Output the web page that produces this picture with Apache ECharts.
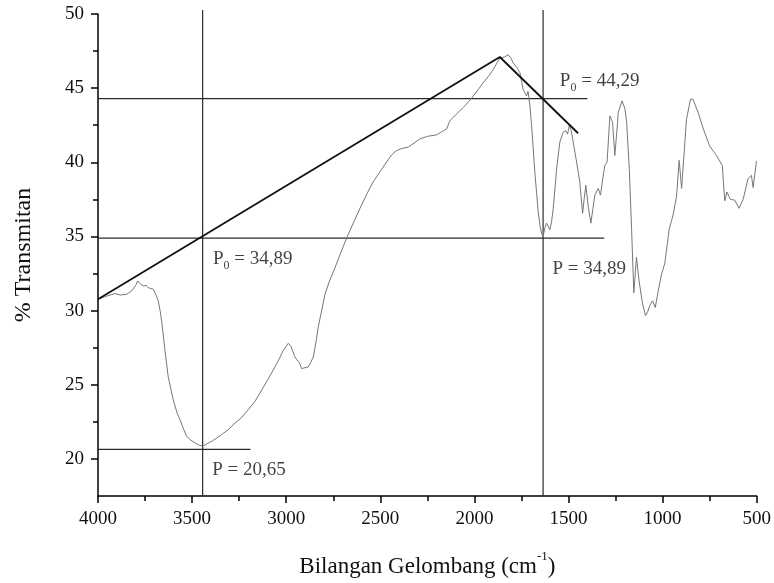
<!DOCTYPE html>
<html>
<head>
<meta charset="utf-8">
<script src="https://cdn.jsdelivr.net/npm/echarts@6/dist/echarts.min.js"></script>
<style>
html,body{margin:0;padding:0;background:#fff;}
#chart{width:774px;height:583px;}
</style>
</head>
<body>
<div id="chart"></div>
<script>
// ---- spectrum data (wavenumber cm-1, % transmittance) ----
const wavenumber = [4000,3960,3910,3880,3848,3821,3800,3789,3775,3759,3745,3733,3706,3690,3680,3670,3662,3644,3627,3600,3580,3564,3545,3529,3510,3485,3465,3446,3430,3410,3396,3370,3343,3310,3272,3240,3202,3165,3130,3095,3060,3035,3016,3000,2989,2975,2957,2945,2930,2918,2900,2883,2870,2856,2840,2830,2810,2794,2770,2741,2710,2679,2640,2608,2570,2538,2500,2467,2440,2413,2380,2352,2320,2290,2250,2201,2175,2148,2130,2100,2059,2030,2006,1980,1953,1925,1900,1880,1865,1840,1820,1805,1794,1775,1758,1741,1732,1723,1715,1705,1696,1679,1661,1650,1643,1635,1625,1617,1608,1599,1590,1581,1563,1546,1528,1514,1505,1496,1487,1478,1457,1440,1425,1417,1408,1395,1381,1370,1360,1342,1330,1318,1307,1295,1280,1266,1254,1239,1236,1215,1200,1191,1177,1165,1153,1139,1125,1107,1091,1080,1068,1053,1039,1025,1006,988,975,965,944,926,912,899,887,873,852,838,825,811,785,750,714,683,670,658,640,617,594,572,546,528,519,501];
const transmitan = [30.77,30.95,31.15,31.05,31.1,31.33,31.7,32.0,31.8,31.66,31.7,31.55,31.44,31.0,30.66,30.0,29.32,27.32,25.53,23.98,23.1,22.64,22.0,21.52,21.3,21.08,20.95,20.86,20.95,21.1,21.19,21.4,21.64,21.95,22.41,22.75,23.31,23.9,24.65,25.4,26.2,26.8,27.32,27.6,27.8,27.6,26.98,26.7,26.5,26.09,26.15,26.2,26.5,26.87,28.0,28.88,30.1,31.1,32.0,32.89,33.9,34.89,36.0,36.9,37.9,38.68,39.4,40.02,40.5,40.8,40.95,41.02,41.3,41.58,41.75,41.85,42.05,42.25,42.8,43.2,43.7,44.1,44.47,44.9,45.37,45.8,46.26,46.7,47.04,47.1,47.26,47.0,46.7,46.4,46.04,44.92,44.8,44.47,44.8,43.8,42.47,39.35,36.68,35.6,35.23,35.0,35.6,35.9,35.7,35.45,36.0,36.9,39.57,41.36,42.03,42.13,41.9,42.47,42.2,41.58,40.02,38.68,36.56,37.5,38.46,37.01,35.9,36.9,37.79,38.24,37.79,38.9,39.79,40.02,43.13,42.7,40.46,42.7,43.36,44.14,43.6,42.7,39.57,35.56,31.2,33.6,32.0,30.5,29.66,29.9,30.35,30.66,30.21,31.2,32.44,33.2,34.5,35.5,36.45,37.7,40.13,38.24,40.4,42.9,44.25,44.25,43.8,43.36,42.3,41.1,40.46,39.79,37.4,38.0,37.5,37.45,36.9,37.5,38.9,39.12,38.3,40.1];

// ---- baseline (tangent) line vertices ----
const tangentX = [4000, 1865, 1449];
const tangentY = [30.77, 47.1, 41.96];

// ---- reference lines ----
const hLineY = [44.29, 34.89, 20.65];
const hLineStart = [4000, 4000, 4000];
const hLineEnd = [1400, 1310, 3190];
const vLineX = [3444, 1635];
const vLineBottom = [17.5, 17.5];
const vLineTop = [50.27, 50.27];

// ---- annotation texts (anchored at their upper-left corner, data coords) ----
const annLabel = ['P', 'P', 'P', 'P'];
const annSub = ['0', '', '0', ''];
const annValue = [' = 44,29', ' = 34,89', ' = 34,89', ' = 20,65'];
const annX = [1546, 1585, 3389, 3393];
const annY = [46.04, 33.36, 34.02, 19.79];

// ---- axes ----
const xMin = 500, xMax = 4000, xStep = 500;
const yMin = 17.5, yMax = 50;
const yMajorTicks = [20, 25, 30, 35, 40, 45, 50];
const yMinorTicks = [22.5, 27.5, 32.5, 37.5, 42.5, 47.5];

const SERIF = '"Liberation Serif","Times New Roman",serif';
const INK = '#111';

const spectrum = wavenumber.map((w, i) => [w, transmitan[i]]);
const series = [];
series.push({
  type: 'line', name: 'spectrum', data: spectrum, showSymbol: false, symbol: 'none',
  lineStyle: {color: '#777', width: 1}, z: 3, silent: true
});
series.push({
  type: 'line', data: tangentX.map((x, i) => [x, tangentY[i]]), symbol: 'none',
  lineStyle: {color: '#111', width: 1.8}, z: 4, silent: true
});
hLineY.forEach((y, i) => {
  series.push({
    type: 'line', data: [[hLineStart[i], y], [hLineEnd[i], y]], symbol: 'none',
    lineStyle: {color: '#2a2a2a', width: 1.2}, z: 2, silent: true
  });
});
vLineX.forEach((x, i) => {
  series.push({
    type: 'line', data: [[x, vLineBottom[i]], [x, vLineTop[i]]], symbol: 'none', clip: false,
    lineStyle: {color: '#2a2a2a', width: 1.2}, z: 2, silent: true
  });
});
series.push({
  type: 'scatter', symbolSize: 0, silent: true, z: 5,
  data: annX.map((x, i) => ({
    value: [x, annY[i]],
    label: {
      formatter: annSub[i] ? '{p|' + annLabel[i] + '}{s|' + annSub[i] + '}{p|' + annValue[i] + '}'
                           : '{p|' + annLabel[i] + annValue[i] + '}'
    }
  })),
  label: {
    show: true, position: [0, -4], align: 'left', verticalAlign: 'top',
    rich: {
      p: {fontFamily: SERIF, fontSize: 19, color: INK, lineHeight: 24, verticalAlign: 'middle'},
      s: {fontFamily: SERIF, fontSize: 12, color: INK, lineHeight: 25, verticalAlign: 'bottom'}
    }
  }
});

const chart = echarts.init(document.getElementById('chart'), null, {renderer: 'canvas'});
chart.setOption({
  animation: false,
  backgroundColor: '#fff',
  grid: {left: 98, right: 17.3, top: 14, bottom: 83, containLabel: false},
  xAxis: {
    type: 'value', min: xMin, max: xMax, interval: xStep, inverse: true,
    axisLine: {show: true, onZero: false, lineStyle: {color: '#000', width: 1.5}},
    axisTick: {show: true, length: 7, lineStyle: {color: '#000', width: 1.5}},
    minorTick: {show: true, splitNumber: 2, length: 5, lineStyle: {color: '#000', width: 1.5}},
    splitLine: {show: false},
    axisLabel: {fontFamily: SERIF, fontSize: 19, color: INK, margin: 14, formatter: v => String(v)},
    name: '{t|Bilangan Gelombang (cm}{u|-1}{t|)}',
    nameLocation: 'middle', nameGap: 54,
    nameTextStyle: {
      rich: {
        t: {fontFamily: SERIF, fontSize: 23, color: INK, lineHeight: 28, verticalAlign: 'bottom'},
        u: {fontFamily: SERIF, fontSize: 13, color: INK, lineHeight: 28, verticalAlign: 'top'}
      }
    }
  },
  yAxis: [{
    type: 'value', min: yMin, max: yMax,
    axisLine: {show: true, onZero: false, lineStyle: {color: '#000', width: 1.5}},
    axisTick: {show: true, length: 7, customValues: yMajorTicks, lineStyle: {color: '#000', width: 1.5}},
    axisLabel: {fontFamily: SERIF, fontSize: 19, color: INK, margin: 14, customValues: yMajorTicks, formatter: v => String(v)},
    splitLine: {show: false},
    name: '% Transmitan', nameLocation: 'middle', nameGap: 62, nameRotate: 90,
    nameTextStyle: {fontFamily: SERIF, fontSize: 24, color: INK}
  }, {
    type: 'value', min: yMin, max: yMax, position: 'left',
    axisLine: {show: false},
    axisTick: {show: true, length: 5, customValues: yMinorTicks, lineStyle: {color: '#000', width: 1.5}},
    axisLabel: {show: false},
    splitLine: {show: false}
  }],
  series: series
});
</script>
</body>
</html>
